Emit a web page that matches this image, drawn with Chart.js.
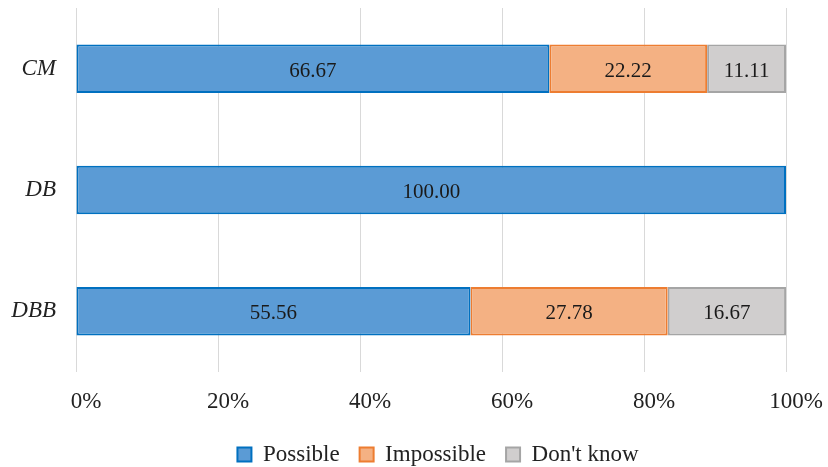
<!DOCTYPE html>
<html>
<head>
<meta charset="utf-8">
<script src="https://cdn.jsdelivr.net/npm/chart.js@4/dist/chart.umd.min.js"></script>
<style>
  html, body { margin: 0; padding: 0; background: #ffffff; }
  #wrap { width: 828px; height: 467px; }
</style>
</head>
<body>
<div id="wrap"><canvas id="c" width="828" height="467"></canvas></div>
<script>
// Share of answers per group (percent)
const categories = ['CM', 'DB', 'DBB'];
const seriesNames = ['Possible', 'Impossible', "Don't know"];
const possible   = [66.67, 100.00, 55.56];
const impossible = [22.22, 0, 27.78];
const dontKnow   = [11.11, 0, 16.67];
const xTicks = [0, 20, 40, 60, 80, 100];

const fills   = ['#5b9bd5', '#f4b183', '#d0cece'];
const borders = ['#0070c0', '#ed7d31', '#a5a5a5'];
const SERIF = '"Liberation Serif", "Times New Roman", serif';

// Writes each segment's value in the middle of its bar
const valueLabels = {
  id: 'valueLabels',
  afterDatasetsDraw(chart) {
    const ctx = chart.ctx;
    ctx.save();
    ctx.font = '21px ' + SERIF;
    ctx.fillStyle = '#1a1a1a';
    ctx.textAlign = 'center';
    ctx.textBaseline = 'middle';
    chart.data.datasets.forEach((ds, di) => {
      const meta = chart.getDatasetMeta(di);
      meta.data.forEach((bar, i) => {
        const v = ds.data[i];
        if (!v) return;
        const cx = (bar.x + bar.base) / 2;
        ctx.fillText(v.toFixed(2), cx, bar.y + 2.5);
      });
    });
    ctx.restore();
  }
};

// Nudges the legend row to the right of the plot's centre line
const legendShift = {
  id: 'legendShift',
  afterLayout(chart) {
    const lg = chart.legend;
    if (!lg) return;
    lg.left += 45;
    lg.right += 45;
  }
};

const values = [possible, impossible, dontKnow];
const datasets = seriesNames.map((name, k) => ({
  label: name,
  data: values[k],
  backgroundColor: fills[k],
  borderColor: borders[k],
  borderWidth: (c) => (c.raw ? 2 : 0),
  borderSkipped: false,
  categoryPercentage: 1,
  barPercentage: 0.4
}));

new Chart(document.getElementById('c'), {
  type: 'bar',
  data: { labels: categories, datasets },
  options: {
    indexAxis: 'y',
    responsive: false,
    animation: false,
    layout: { padding: { top: 8, right: 42, bottom: -9, left: 0 } },
    scales: {
      x: {
        stacked: true,
        min: 0,
        max: 100,
        afterBuildTicks: (s) => { s.ticks = xTicks.map(v => ({ value: v })); },
        grid: { color: '#d9d9d9', lineWidth: 1, drawTicks: false },
        border: { display: false },
        ticks: {
          padding: 16,
          labelOffset: 10,
          color: '#222222',
          font: { family: SERIF, size: 23 },
          callback: (v) => v + '%'
        },
        afterFit: (s) => { s.height = 51; s.paddingLeft = 0; s.paddingRight = 0; }
      },
      y: {
        stacked: true,
        grid: { display: false },
        border: { display: false },
        ticks: {
          padding: 12,
          color: '#222222',
          font: { family: SERIF, size: 23, style: 'italic' }
        },
        afterFit: (s) => { s.width = 76; s.paddingTop = 0; s.paddingBottom = 0; }
      }
    },
    plugins: {
      legend: {
        position: 'bottom',
        labels: {
          boxWidth: 14,
          boxHeight: 14,
          padding: 20,
          color: '#222222',
          font: { family: SERIF, size: 23 }
        }
      },
      tooltip: { enabled: false }
    }
  },
  plugins: [valueLabels, legendShift]
});
</script>
</body>
</html>
